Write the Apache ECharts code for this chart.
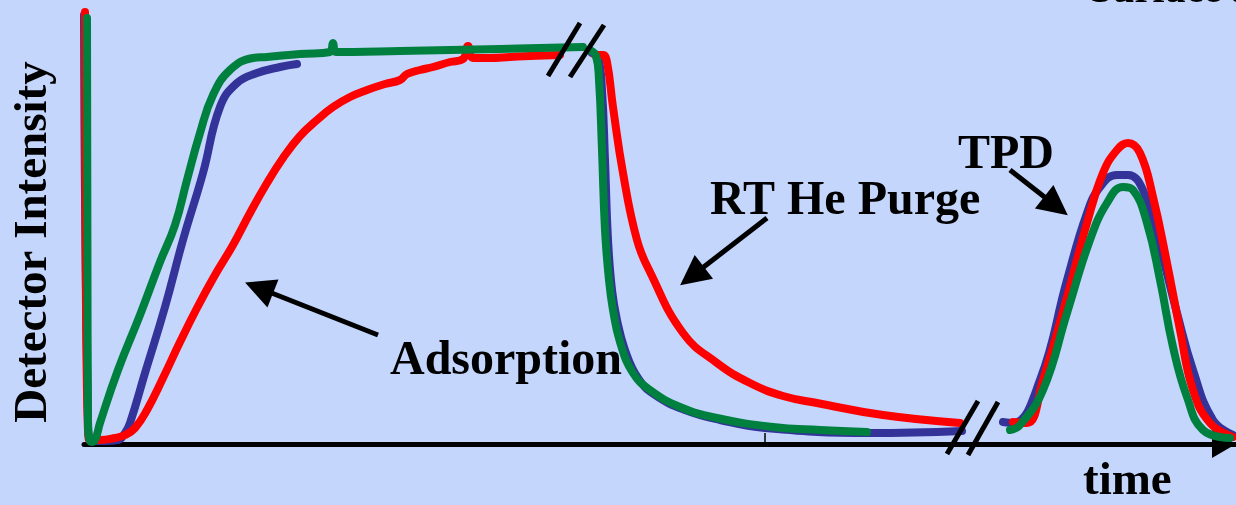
<!DOCTYPE html>
<html>
<head>
<meta charset="utf-8">
<script src="https://cdn.jsdelivr.net/npm/echarts@6/dist/echarts.min.js"></script>
<style>
  html, body { margin: 0; padding: 0; background: #c4d6fc; }
  #chart { width: 1236px; height: 505px; }
</style>
</head>
<body>
<div id="chart"></div>
<script>
// Detector response for three runs: [time, intensity], arbitrary units.
// Each run has three stages: adsorption, room-temperature He purge, TPD.
const redAdsorption = [[1,432],[5,4],[16,4],[31,6],[41,9],[51,16],[63,34],[79,66],[96,102],[113,136],[131,169],[149,199],[166,231],[183,261],[199,286],[216,308],[233,324],[249,337],[266,347],[283,354],[301,360],[316,364],[323,370],[336,374],[349,377],[366,382],[379,385],[384,398],[389,386],[406,386],[426,387],[446,388],[476,389]];
const blueAdsorption = [[0,429],[4,24],[8,3],[21,3],[34,4],[41,11],[46,21],[61,71],[81,137],[99,204],[119,271],[136,337],[153,361],[173,371],[196,377],[213,380]];
const greenAdsorption = [[3,426],[4,24],[7,2],[11,4],[16,21],[34,74],[56,129],[76,182],[91,219],[103,264],[116,311],[129,349],[146,374],[169,386],[183,387],[216,390],[246,392],[249,401],[252,392],[316,393],[416,395],[499,397]];

const redPurge = [[511,389],[519,389],[523,382],[529,337],[539,271],[553,204],[566,172],[599,111],[633,81],[666,61],[699,48],[733,41],[799,29],[876,21]];
const bluePurge = [[508,391],[514,387],[518,354],[521,284],[524,204],[528,154],[533,124],[541,94],[554,66],[571,49],[601,34],[636,24],[681,16],[786,11],[878,13]];
const greenPurge = [[506,394],[512,388],[515,364],[518,294],[521,214],[525,164],[529,134],[536,102],[549,71],[566,54],[596,37],[633,26],[689,17],[736,14],[783,12]];

const redTPD = [[929,22],[943,21],[959,64],[983,147],[1003,221],[1019,271],[1033,294],[1044,301],[1056,291],[1069,247],[1083,181],[1096,114],[1109,54],[1126,21],[1149,7]];
const blueTPD = [[919,22],[929,21],[956,64],[983,164],[1003,231],[1016,257],[1033,269],[1044,269],[1059,254],[1076,197],[1093,131],[1109,74],[1129,24],[1149,9]];
const greenTPD = [[926,14],[936,19],[959,54],[983,131],[1006,204],[1023,241],[1039,257],[1049,254],[1063,221],[1076,164],[1089,97],[1103,47],[1119,14],[1146,6]];

// Annotation arrows: [tail, head] in data units
const arrows = [
  [[294,109],[175,156]],
  [[683,226],[608,168]],
  [[926,274],[972,238]]
];
// Axis-break marks ("//")
const breaks = [
  [[496,421],[464,368]], [[520,419],[486,367]],
  [[894,43],[863,-10]], [[914,42],[884,-11]]
];
// Small tick on the time axis
const axisTick = [[681,2],[681,11]];

const TIME_MAX = 1152, INTENSITY_MIN = -61, INTENSITY_MAX = 444;
const serif = "'Liberation Serif', 'Times New Roman', serif";

// join stages with a null point so each stage is drawn as a separate stroke
function joinStages(...stages) {
  const out = [];
  stages.forEach((s, i) => {
    if (i > 0) out.push([(out[out.length - 1][0] + s[0][0]) / 2, null]);
    s.forEach(p => out.push(p));
  });
  return out;
}

function run(name, color, stages) {
  return {
    name, type: 'line', data: joinStages(...stages),
    smooth: 0.45, connectNulls: false,
    showSymbol: false, symbol: 'none',
    lineStyle: { color, width: 8, cap: 'round', join: 'round' },
    silent: true, animation: false
  };
}

const blackLine = { color: '#000', width: 5, type: 'solid' };

const chart = echarts.init(document.getElementById('chart'), null, { renderer: 'canvas' });
chart.setOption({
  backgroundColor: '#c4d6fc',
  animation: false,
  grid: { left: 84, right: 0, top: 0, bottom: 0, containLabel: false },
  xAxis: {
    type: 'value', min: 0, max: TIME_MAX,
    axisLine: { show: true, onZero: true, lineStyle: { color: '#000', width: 5 },
      symbol: ['none', 'triangle'], symbolSize: [28, 24], symbolOffset: [0, -12] },
    axisTick: { show: false }, axisLabel: { show: false }, splitLine: { show: false }
  },
  yAxis: {
    type: 'value', min: INTENSITY_MIN, max: INTENSITY_MAX,
    axisLine: { show: false }, axisTick: { show: false }, axisLabel: { show: false }, splitLine: { show: false }
  },
  series: [
    run('blue', '#333399', [blueAdsorption, bluePurge, blueTPD]),
    run('red', '#ff0000', [redAdsorption, redPurge, redTPD]),
    run('green', '#00803f', [greenAdsorption, greenPurge, greenTPD]),
    {
      type: 'line', data: [], silent: true, clip: false,
      markLine: {
        silent: true, animation: false, symbol: ['none', 'triangle'], symbolSize: [30, 30],
        label: { show: false }, lineStyle: blackLine, itemStyle: { color: '#000' },
        emphasis: { disabled: true },
        data: arrows.map(a => [{ coord: a[0] }, { coord: a[1] }])
      }
    },
    {
      type: 'line', data: [], silent: true, clip: false,
      markLine: {
        silent: true, animation: false, symbol: ['none', 'none'],
        label: { show: false }, lineStyle: blackLine,
        emphasis: { disabled: true },
        data: breaks.map(b => [{ coord: b[0] }, { coord: b[1] }])
          .concat([[{ coord: axisTick[0], lineStyle: { width: 1.5 } }, { coord: axisTick[1] }]])
      }
    }
  ],
  graphic: [
    { type: 'text', x: 34, y: 242, rotation: Math.PI / 2,
      style: { text: 'Detector Intensity', font: `bold 47px ${serif}`, fill: '#000', align: 'center', verticalAlign: 'middle' } },
    { type: 'text', x: 390, y: 362,
      style: { text: 'Adsorption', font: `bold 48px ${serif}`, fill: '#000', align: 'left', verticalAlign: 'middle' } },
    { type: 'text', x: 710, y: 202,
      style: { text: 'RT He Purge', font: `bold 48px ${serif}`, fill: '#000', align: 'left', verticalAlign: 'middle' } },
    { type: 'text', x: 958, y: 156,
      style: { text: 'TPD', font: `bold 48px ${serif}`, fill: '#000', align: 'left', verticalAlign: 'middle' } },
    { type: 'text', x: 1083, y: 482,
      style: { text: 'time', font: `bold 47px ${serif}`, fill: '#000', align: 'left', verticalAlign: 'middle' } },
    { type: 'text', x: 1090, y: -8,
      style: { text: 'Surface area', font: `bold 40px ${serif}`, fill: '#000', align: 'left', verticalAlign: 'middle' } }
  ]
});
</script>
</body>
</html>
